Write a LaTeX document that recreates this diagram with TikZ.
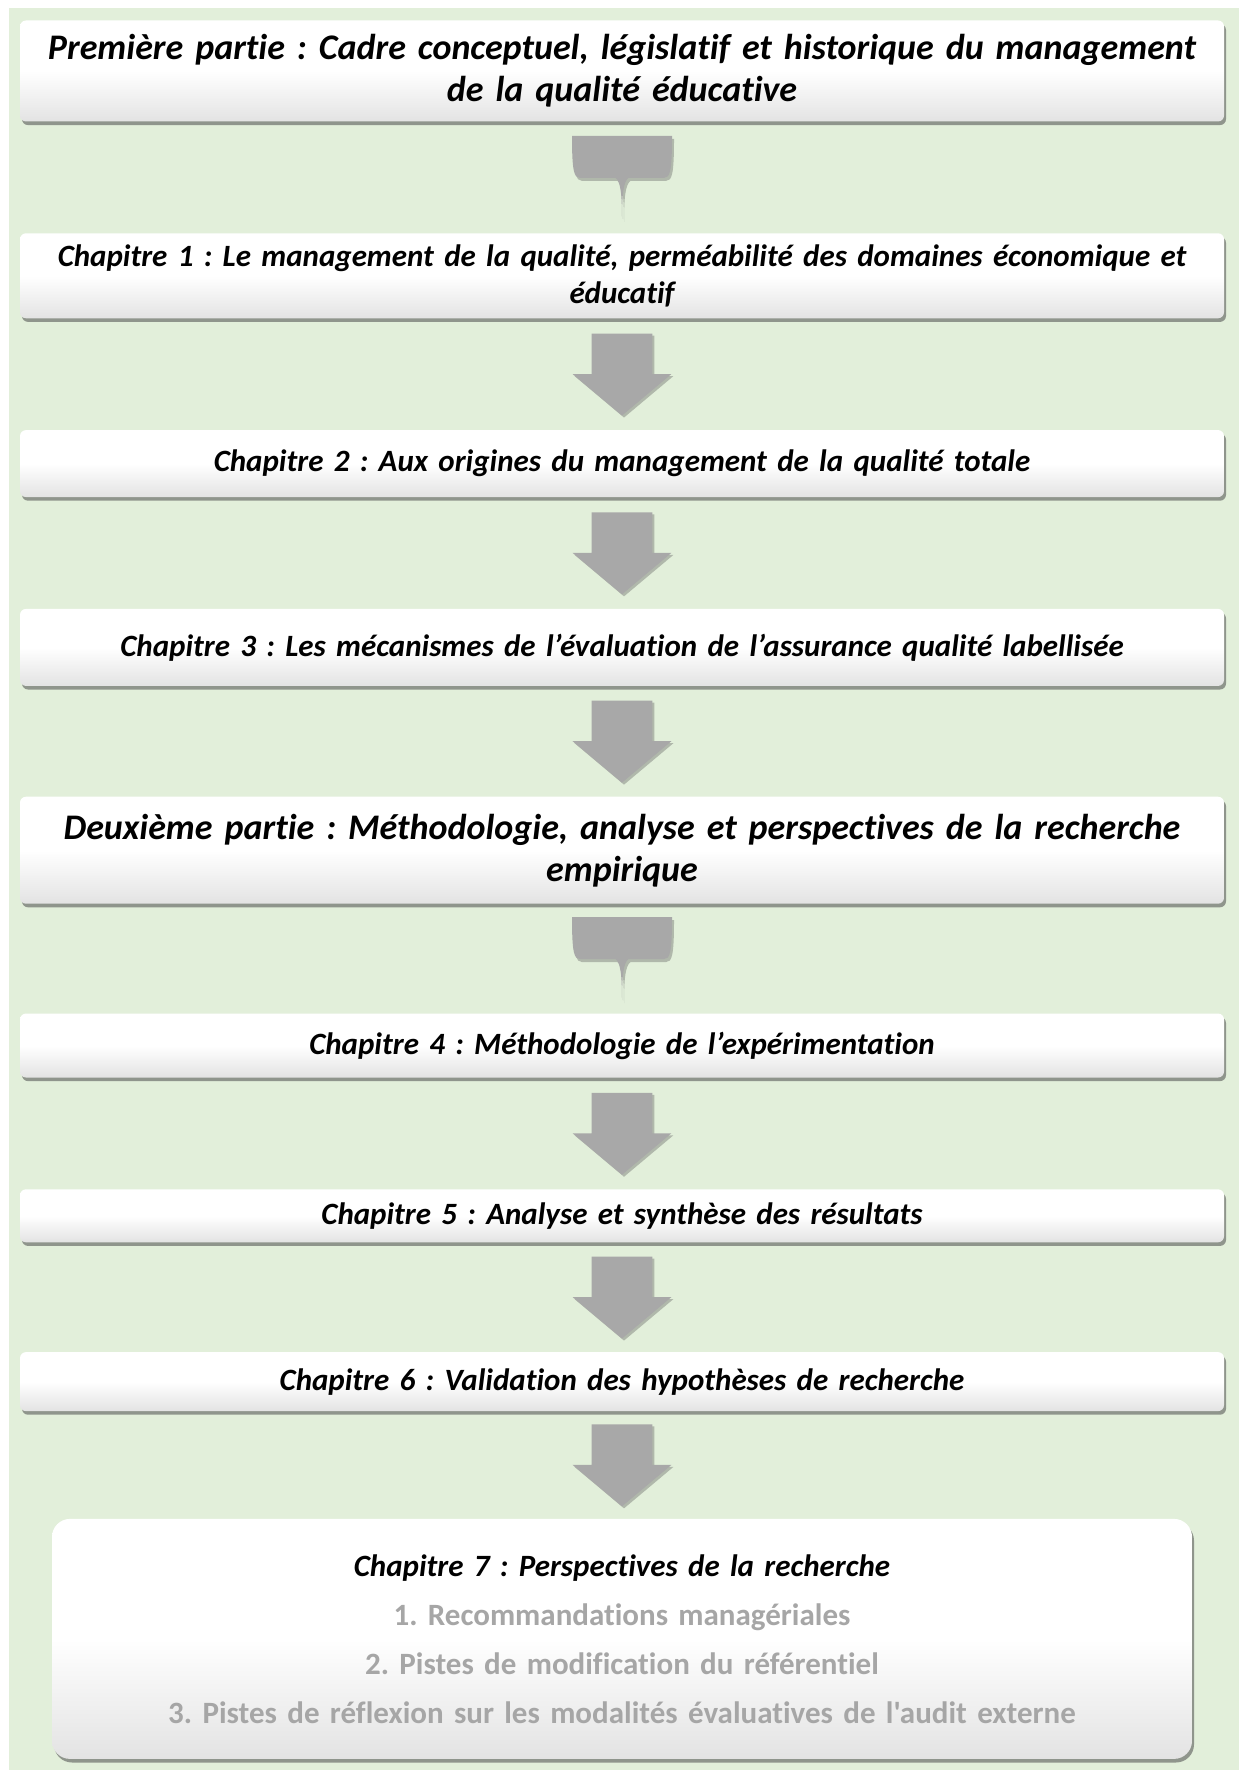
\documentclass[tikz,border=0pt]{standalone}
\usepackage{fontspec}
\setmainfont{Carlito}[Ligatures={NoCommon,TeXOff}]
\usepackage{xcolor}
\usepackage{tikz}
\usetikzlibrary{shapes.arrows, shadows, positioning}
\definecolor{bggreen}{RGB}{226,239,218}
\definecolor{arrowgray}{RGB}{168,168,168}
\definecolor{itemgray}{RGB}{166,166,166}
\frenchspacing

\begin{document}
\begin{tikzpicture}[
  node distance=55.5pt,
  box/.style={rounded corners=3pt, top color=white, bottom color=black!11, middle color=white, minimum width=602pt, text width=590pt, align=center, inner sep=2pt, font=\fontsize{15.5}{18.5}\selectfont\bfseries\itshape, drop shadow={shadow xshift=1pt, shadow yshift=-1.8pt, opacity=.6, fill=black!65}},
  part/.style={box, font=\fontsize{18}{21}\selectfont\bfseries\itshape},
  lastbox/.style={box, rounded corners=9pt, minimum width=570pt, text width=558pt, minimum height=120pt, text=itemgray, font=\fontsize{15.5}{24.5}\selectfont\bfseries},
  downarrow/.style={single arrow, rotate=-90, fill=arrowgray, minimum height=41pt, inner xsep=0pt, inner ysep=15pt, single arrow head extend=9.5pt, single arrow tip angle=100, drop shadow={shadow xshift=1pt, shadow yshift=-1pt, opacity=.4, fill=black!60}},
  bubble/.style={fill=arrowgray, drop shadow={shadow xshift=1pt, shadow yshift=-1.5pt, opacity=.4, fill=black!60}}
]
  \useasboundingbox (0,0) rectangle (619.5pt,-885pt);
  \fill[bggreen] (4.5pt,-4pt) rectangle (619.5pt,-885pt);

  \node[part, minimum height=50.5pt] (part1) at (311pt,-35.5pt) {Première partie : Cadre conceptuel, législatif et historique du management\\de la qualité éducative};
  \node[box, minimum height=42.5pt, below=of part1] (ch1) {Chapitre 1 : Le management de la qualité, perméabilité des domaines économique et\\éducatif};
  \node[box, minimum height=33.5pt, below=of ch1] (ch2) {Chapitre 2 : Aux origines du management de la qualité totale};
  \node[box, minimum height=38.5pt, below=of ch2] (ch3) {Chapitre 3 : Les mécanismes de l’évaluation de l’assurance qualité labellisée};
  \node[part, minimum height=53.5pt, below=55pt of ch3] (part2) {Deuxième partie : Méthodologie, analyse et perspectives de la recherche\\empirique};
  \node[box, minimum height=32pt, below=54.5pt of part2] (ch4) {Chapitre 4 : Méthodologie de l’expérimentation};
  \node[box, minimum height=26.5pt, below=of ch4] (ch5) {Chapitre 5 : Analyse et synthèse des résultats};
  \node[box, minimum height=29.5pt, below=54.5pt of ch5] (ch6) {Chapitre 6 : Validation des hypothèses de recherche};
  \node[lastbox, below=53.5pt of ch6] (ch7) {\textcolor{black}{\itshape Chapitre 7 : Perspectives de la recherche}\\1. Recommandations managériales\\2. Pistes de modification du référentiel\\3. Pistes de réflexion sur les modalités évaluatives de l'audit externe};

  % block arrows between the chapters
  \path ([yshift=6.2pt]ch1.south) -- ([yshift=6.2pt]ch2.north) node[midway, downarrow] (a12) {};
  \path ([yshift=6.2pt]ch2.south) -- ([yshift=6.2pt]ch3.north) node[midway, downarrow] (a23) {};
  \path ([yshift=6.2pt]ch3.south) -- ([yshift=6.2pt]part2.north) node[midway, downarrow] (a3p) {};
  \path ([yshift=6.2pt]ch4.south) -- ([yshift=6.2pt]ch5.north) node[midway, downarrow] (a45) {};
  \path ([yshift=6.2pt]ch5.south) -- ([yshift=6.2pt]ch6.north) node[midway, downarrow] (a56) {};
  \path ([yshift=6.2pt]ch6.south) -- ([yshift=6.2pt]ch7.north) node[midway, downarrow] (a67) {};

  % callouts below the two parts
  \path (part1.south) -- (ch1.north) coordinate[midway] (c1);
  \path (part2.south) -- (ch4.north) coordinate[midway] (c2);
  \fill[bubble, shift={(c1)}] (-25pt,20.75pt) .. controls (-25pt,3pt) and (-24pt,-0.25pt) .. (-21pt,-0.25pt) -- (-3.25pt,-0.25pt)
    .. controls (-0.8pt,-2pt) and (0pt,-8pt) .. (0pt,-20.75pt) .. controls (0pt,-8pt) and (0.8pt,-2pt) .. (3.25pt,-0.25pt)
    -- (21pt,-0.25pt) .. controls (24pt,-0.25pt) and (25pt,3pt) .. (25pt,20.75pt) -- cycle;
  \fill[bubble, shift={(c2)}] (-25pt,20.75pt) .. controls (-25pt,3pt) and (-24pt,-0.25pt) .. (-21pt,-0.25pt) -- (-3.25pt,-0.25pt)
    .. controls (-0.8pt,-2pt) and (0pt,-8pt) .. (0pt,-20.75pt) .. controls (0pt,-8pt) and (0.8pt,-2pt) .. (3.25pt,-0.25pt)
    -- (21pt,-0.25pt) .. controls (24pt,-0.25pt) and (25pt,3pt) .. (25pt,20.75pt) -- cycle;
\end{tikzpicture}
\end{document}
